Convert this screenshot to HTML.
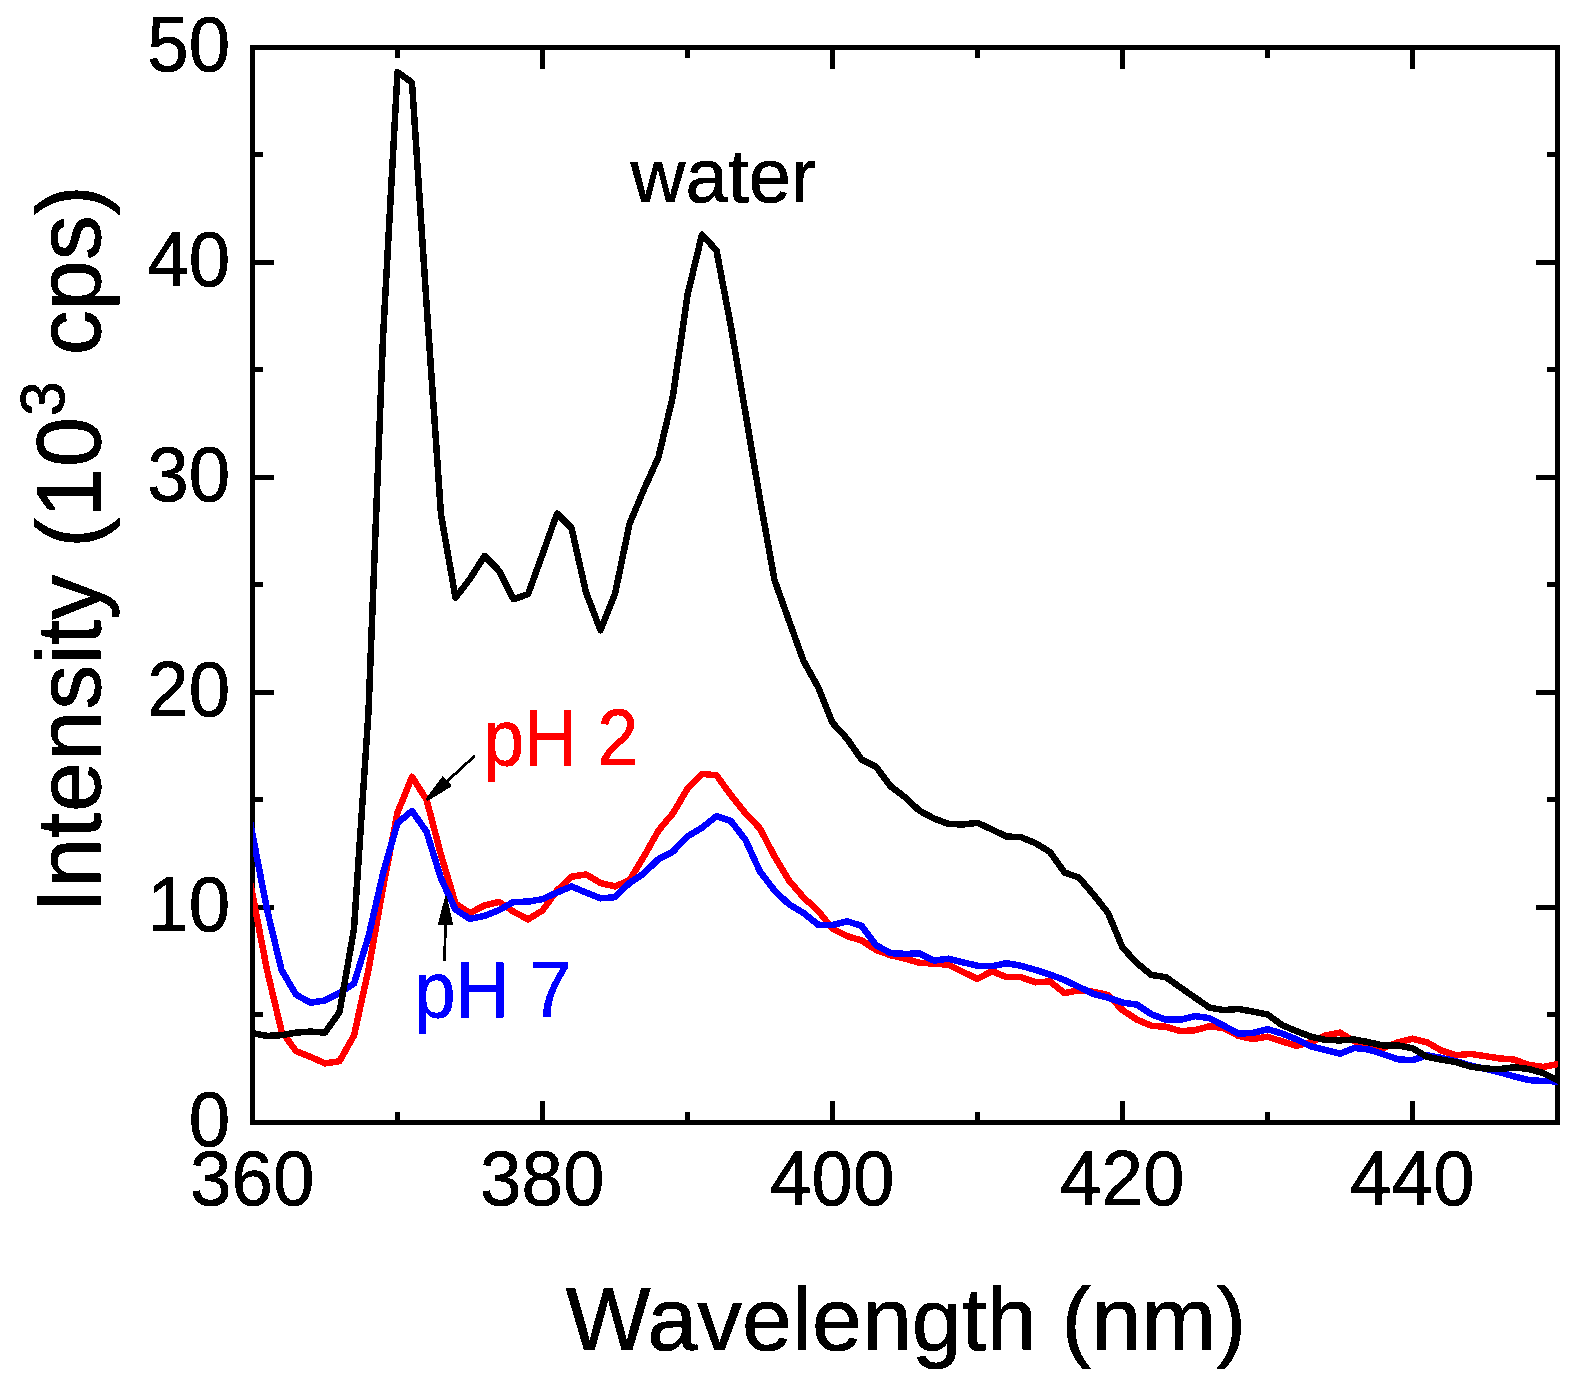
<!DOCTYPE html>
<html><head><meta charset="utf-8"><title>Fluorescence spectra</title>
<style>
html,body{margin:0;padding:0;background:#fff;overflow:hidden;}
svg{display:block;}
text{font-family:"Liberation Sans",Arial,Helvetica,sans-serif;}
</style></head><body>
<svg width="1574" height="1389" viewBox="0 0 1574 1389">
<defs><filter id="bin" filterUnits="userSpaceOnUse" x="0" y="0" width="1574" height="1389" color-interpolation-filters="sRGB"><feComponentTransfer><feFuncA type="discrete" tableValues="0 1"/></feComponentTransfer></filter></defs>
<rect width="1574" height="1389" fill="#fff"/>
<g fill="none" stroke="#000" stroke-width="5.0" stroke-linecap="butt">
<rect x="252.5" y="47.5" width="1305.0" height="1075.0"/>
<path d="M397.5 1122.5 v-10.5 M397.5 47.5 v10.5 M542.5 1122.5 v-21.5 M542.5 47.5 v21.5 M687.5 1122.5 v-10.5 M687.5 47.5 v10.5 M832.5 1122.5 v-21.5 M832.5 47.5 v21.5 M977.5 1122.5 v-10.5 M977.5 47.5 v10.5 M1122.5 1122.5 v-21.5 M1122.5 47.5 v21.5 M1267.5 1122.5 v-10.5 M1267.5 47.5 v10.5 M1412.5 1122.5 v-21.5 M1412.5 47.5 v21.5 M252.5 1014.5 h10.5 M1557.5 1014.5 h-10.5 M252.5 907.5 h21.5 M1557.5 907.5 h-21.5 M252.5 799.5 h10.5 M1557.5 799.5 h-10.5 M252.5 692.5 h21.5 M1557.5 692.5 h-21.5 M252.5 584.5 h10.5 M1557.5 584.5 h-10.5 M252.5 477.5 h21.5 M1557.5 477.5 h-21.5 M252.5 369.5 h10.5 M1557.5 369.5 h-10.5 M252.5 262.5 h21.5 M1557.5 262.5 h-21.5 M252.5 154.5 h10.5 M1557.5 154.5 h-10.5"/>
</g>
<g filter="url(#bin)"><g font-size="76" fill="#000" stroke="#000" stroke-width="0.7"><text transform="translate(252.2,1204.7) scale(0.98,1.03)" text-anchor="middle">360</text><text transform="translate(542.2,1204.7) scale(0.98,1.03)" text-anchor="middle">380</text><text transform="translate(832.2,1204.7) scale(0.98,1.03)" text-anchor="middle">400</text><text transform="translate(1122.2,1204.7) scale(0.98,1.03)" text-anchor="middle">420</text><text transform="translate(1412.2,1204.7) scale(0.98,1.03)" text-anchor="middle">440</text><text transform="translate(230.2,1145.9) scale(0.98,1.03)" text-anchor="end">0</text><text transform="translate(230.2,930.9) scale(0.98,1.03)" text-anchor="end">10</text><text transform="translate(230.2,715.9) scale(0.98,1.03)" text-anchor="end">20</text><text transform="translate(230.2,500.9) scale(0.98,1.03)" text-anchor="end">30</text><text transform="translate(230.2,285.9) scale(0.98,1.03)" text-anchor="end">40</text><text transform="translate(230.2,70.9) scale(0.98,1.03)" text-anchor="end">50</text></g>
<text x="906" y="1350" font-size="89.8" text-anchor="middle" fill="#000" stroke="#000" stroke-width="0.8">Wavelength (nm)</text>
<text transform="translate(100.3,913) rotate(-90)" font-size="90" fill="#000" stroke="#000" stroke-width="0.8" dx="0 0 0 1 1 1 0 0 0 2 0 0 0.7">Intensity (10<tspan font-size="62.5" dy="-36.5" dx="1">3</tspan><tspan dy="36.5" dx="0.8"> cps)</tspan></text></g>
<clipPath id="pc"><rect x="253.1" y="47.5" width="1304.9" height="1075.0"/></clipPath>
<g clip-path="url(#pc)" shape-rendering="crispEdges" fill="none" stroke-width="6.5" stroke-linejoin="round" stroke-linecap="butt">
<polyline stroke="#f00" points="238.0,819.4 252.5,894.6 267.0,969.9 281.5,1031.1 296.0,1051.1 310.5,1056.9 325.0,1063.4 339.5,1061.2 354.0,1035.4 368.5,969.9 383.0,887.7 397.5,812.7 412.0,776.8 426.5,799.6 441.0,854.8 455.5,903.6 470.0,913.1 484.5,905.4 499.0,901.9 513.5,911.6 528.0,919.3 542.5,910.5 557.0,890.5 571.5,876.8 586.0,874.4 600.5,883.0 615.0,886.4 629.5,880.2 644.0,856.3 658.5,830.5 673.0,813.3 687.5,788.6 702.0,773.8 716.5,775.3 731.0,795.3 745.5,813.3 760.0,828.6 774.5,856.3 789.0,880.6 803.5,897.4 818.0,910.7 832.5,928.6 847.0,936.1 861.5,940.4 876.0,949.9 890.5,955.2 905.0,958.7 919.5,962.8 934.0,963.6 948.5,964.7 963.0,972.0 977.5,978.9 992.0,971.1 1006.5,977.2 1021.0,977.2 1035.5,982.3 1050.0,981.5 1064.5,993.1 1079.0,990.3 1093.5,991.8 1108.0,995.0 1122.5,1010.1 1137.0,1019.7 1151.5,1025.8 1166.0,1026.8 1180.5,1031.1 1195.0,1030.3 1209.5,1026.2 1224.0,1028.3 1238.5,1035.9 1253.0,1039.1 1267.5,1036.7 1282.0,1041.4 1296.5,1045.7 1311.0,1042.1 1325.5,1035.4 1340.0,1032.6 1354.5,1041.4 1369.0,1044.7 1383.5,1047.9 1398.0,1042.3 1412.5,1038.7 1427.0,1042.3 1441.5,1050.5 1456.0,1055.2 1470.5,1053.9 1485.0,1056.1 1499.5,1058.4 1514.0,1059.5 1528.5,1064.9 1543.0,1067.0 1557.5,1064.0 1572.0,1061.0"/>
<polyline stroke="#f00" stroke-width="4.0" stroke-linejoin="bevel" transform="translate(0.3,0.3)" points="238.0,819.4 252.5,894.6 267.0,969.9 281.5,1031.1 296.0,1051.1 310.5,1056.9 325.0,1063.4 339.5,1061.2 354.0,1035.4 368.5,969.9 383.0,887.7 397.5,812.7 412.0,776.8 426.5,799.6 441.0,854.8 455.5,903.6 470.0,913.1 484.5,905.4 499.0,901.9 513.5,911.6 528.0,919.3 542.5,910.5 557.0,890.5 571.5,876.8 586.0,874.4 600.5,883.0 615.0,886.4 629.5,880.2 644.0,856.3 658.5,830.5 673.0,813.3 687.5,788.6 702.0,773.8 716.5,775.3 731.0,795.3 745.5,813.3 760.0,828.6 774.5,856.3 789.0,880.6 803.5,897.4 818.0,910.7 832.5,928.6 847.0,936.1 861.5,940.4 876.0,949.9 890.5,955.2 905.0,958.7 919.5,962.8 934.0,963.6 948.5,964.7 963.0,972.0 977.5,978.9 992.0,971.1 1006.5,977.2 1021.0,977.2 1035.5,982.3 1050.0,981.5 1064.5,993.1 1079.0,990.3 1093.5,991.8 1108.0,995.0 1122.5,1010.1 1137.0,1019.7 1151.5,1025.8 1166.0,1026.8 1180.5,1031.1 1195.0,1030.3 1209.5,1026.2 1224.0,1028.3 1238.5,1035.9 1253.0,1039.1 1267.5,1036.7 1282.0,1041.4 1296.5,1045.7 1311.0,1042.1 1325.5,1035.4 1340.0,1032.6 1354.5,1041.4 1369.0,1044.7 1383.5,1047.9 1398.0,1042.3 1412.5,1038.7 1427.0,1042.3 1441.5,1050.5 1456.0,1055.2 1470.5,1053.9 1485.0,1056.1 1499.5,1058.4 1514.0,1059.5 1528.5,1064.9 1543.0,1067.0 1557.5,1064.0 1572.0,1061.0"/>
<polyline stroke="#00f" points="238.0,759.2 252.5,834.4 267.0,909.6 281.5,969.9 296.0,994.6 310.5,1002.7 325.0,1000.4 339.5,993.1 354.0,983.6 368.5,936.5 383.0,873.5 397.5,823.0 412.0,811.0 426.5,831.6 441.0,878.5 455.5,909.6 470.0,918.9 484.5,915.9 499.0,910.1 513.5,901.9 528.0,901.7 542.5,899.1 557.0,892.5 571.5,886.4 586.0,892.5 600.5,898.3 615.0,897.2 629.5,883.0 644.0,873.3 658.5,859.1 673.0,851.6 687.5,836.3 702.0,827.7 716.5,816.1 731.0,821.1 745.5,840.0 760.0,871.6 774.5,890.5 789.0,904.3 803.5,912.9 818.0,924.7 832.5,925.1 847.0,921.3 861.5,925.8 876.0,945.1 890.5,953.1 905.0,953.9 919.5,953.5 934.0,960.6 948.5,958.7 963.0,962.3 977.5,965.8 992.0,966.2 1006.5,963.2 1021.0,965.8 1035.5,969.9 1050.0,974.6 1064.5,980.0 1079.0,987.0 1093.5,993.9 1108.0,997.6 1122.5,1002.5 1137.0,1004.7 1151.5,1014.4 1166.0,1019.7 1180.5,1019.7 1195.0,1016.1 1209.5,1018.2 1224.0,1025.8 1238.5,1033.7 1253.0,1032.8 1267.5,1029.2 1282.0,1033.5 1296.5,1039.3 1311.0,1046.4 1325.5,1050.0 1340.0,1053.7 1354.5,1047.9 1369.0,1049.6 1383.5,1054.3 1398.0,1059.3 1412.5,1060.2 1427.0,1055.2 1441.5,1058.0 1456.0,1061.2 1470.5,1065.5 1485.0,1068.8 1499.5,1072.2 1514.0,1076.3 1528.5,1080.1 1543.0,1081.0 1557.5,1081.4 1572.0,1081.9"/>
<polyline stroke="#00f" stroke-width="4.0" stroke-linejoin="bevel" transform="translate(0.3,0.3)" points="238.0,759.2 252.5,834.4 267.0,909.6 281.5,969.9 296.0,994.6 310.5,1002.7 325.0,1000.4 339.5,993.1 354.0,983.6 368.5,936.5 383.0,873.5 397.5,823.0 412.0,811.0 426.5,831.6 441.0,878.5 455.5,909.6 470.0,918.9 484.5,915.9 499.0,910.1 513.5,901.9 528.0,901.7 542.5,899.1 557.0,892.5 571.5,886.4 586.0,892.5 600.5,898.3 615.0,897.2 629.5,883.0 644.0,873.3 658.5,859.1 673.0,851.6 687.5,836.3 702.0,827.7 716.5,816.1 731.0,821.1 745.5,840.0 760.0,871.6 774.5,890.5 789.0,904.3 803.5,912.9 818.0,924.7 832.5,925.1 847.0,921.3 861.5,925.8 876.0,945.1 890.5,953.1 905.0,953.9 919.5,953.5 934.0,960.6 948.5,958.7 963.0,962.3 977.5,965.8 992.0,966.2 1006.5,963.2 1021.0,965.8 1035.5,969.9 1050.0,974.6 1064.5,980.0 1079.0,987.0 1093.5,993.9 1108.0,997.6 1122.5,1002.5 1137.0,1004.7 1151.5,1014.4 1166.0,1019.7 1180.5,1019.7 1195.0,1016.1 1209.5,1018.2 1224.0,1025.8 1238.5,1033.7 1253.0,1032.8 1267.5,1029.2 1282.0,1033.5 1296.5,1039.3 1311.0,1046.4 1325.5,1050.0 1340.0,1053.7 1354.5,1047.9 1369.0,1049.6 1383.5,1054.3 1398.0,1059.3 1412.5,1060.2 1427.0,1055.2 1441.5,1058.0 1456.0,1061.2 1470.5,1065.5 1485.0,1068.8 1499.5,1072.2 1514.0,1076.3 1528.5,1080.1 1543.0,1081.0 1557.5,1081.4 1572.0,1081.9"/>
<polyline stroke="#000" points="238.0,1030.3 252.5,1033.1 267.0,1035.9 281.5,1035.2 296.0,1032.6 310.5,1031.6 325.0,1032.6 339.5,1012.2 354.0,929.0 368.5,711.8 383.0,337.8 397.5,72.2 412.0,82.5 426.5,303.4 441.0,514.5 455.5,597.7 470.0,578.8 484.5,556.0 499.0,570.6 513.5,599.2 528.0,594.2 542.5,554.3 557.0,513.6 571.5,528.0 586.0,592.3 600.5,630.2 615.0,594.0 629.5,523.9 644.0,489.3 658.5,457.1 673.0,395.8 687.5,295.0 702.0,234.6 716.5,250.5 731.0,326.8 745.5,413.2 760.0,499.4 774.5,580.1 789.0,620.7 803.5,660.9 818.0,686.9 832.5,722.8 847.0,738.7 861.5,759.4 876.0,766.7 890.5,786.2 905.0,797.2 919.5,810.8 934.0,818.5 948.5,823.9 963.0,824.5 977.5,822.8 992.0,829.5 1006.5,836.5 1021.0,837.2 1035.5,843.2 1050.0,852.0 1064.5,872.5 1079.0,877.6 1093.5,894.6 1108.0,912.9 1122.5,947.5 1137.0,963.2 1151.5,975.0 1166.0,977.2 1180.5,987.5 1195.0,997.6 1209.5,1007.7 1224.0,1010.1 1238.5,1009.0 1253.0,1011.6 1267.5,1014.4 1282.0,1025.1 1296.5,1031.1 1311.0,1036.7 1325.5,1039.9 1340.0,1040.4 1354.5,1039.5 1369.0,1042.3 1383.5,1045.5 1398.0,1045.5 1412.5,1048.3 1427.0,1056.9 1441.5,1059.7 1456.0,1062.1 1470.5,1066.6 1485.0,1068.5 1499.5,1069.2 1514.0,1067.2 1528.5,1069.0 1543.0,1073.0 1557.5,1080.1 1572.0,1087.2"/>
<polyline stroke="#000" stroke-width="4.0" stroke-linejoin="bevel" transform="translate(0.3,0.3)" points="238.0,1030.3 252.5,1033.1 267.0,1035.9 281.5,1035.2 296.0,1032.6 310.5,1031.6 325.0,1032.6 339.5,1012.2 354.0,929.0 368.5,711.8 383.0,337.8 397.5,72.2 412.0,82.5 426.5,303.4 441.0,514.5 455.5,597.7 470.0,578.8 484.5,556.0 499.0,570.6 513.5,599.2 528.0,594.2 542.5,554.3 557.0,513.6 571.5,528.0 586.0,592.3 600.5,630.2 615.0,594.0 629.5,523.9 644.0,489.3 658.5,457.1 673.0,395.8 687.5,295.0 702.0,234.6 716.5,250.5 731.0,326.8 745.5,413.2 760.0,499.4 774.5,580.1 789.0,620.7 803.5,660.9 818.0,686.9 832.5,722.8 847.0,738.7 861.5,759.4 876.0,766.7 890.5,786.2 905.0,797.2 919.5,810.8 934.0,818.5 948.5,823.9 963.0,824.5 977.5,822.8 992.0,829.5 1006.5,836.5 1021.0,837.2 1035.5,843.2 1050.0,852.0 1064.5,872.5 1079.0,877.6 1093.5,894.6 1108.0,912.9 1122.5,947.5 1137.0,963.2 1151.5,975.0 1166.0,977.2 1180.5,987.5 1195.0,997.6 1209.5,1007.7 1224.0,1010.1 1238.5,1009.0 1253.0,1011.6 1267.5,1014.4 1282.0,1025.1 1296.5,1031.1 1311.0,1036.7 1325.5,1039.9 1340.0,1040.4 1354.5,1039.5 1369.0,1042.3 1383.5,1045.5 1398.0,1045.5 1412.5,1048.3 1427.0,1056.9 1441.5,1059.7 1456.0,1062.1 1470.5,1066.6 1485.0,1068.5 1499.5,1069.2 1514.0,1067.2 1528.5,1069.0 1543.0,1073.0 1557.5,1080.1 1572.0,1087.2"/>
</g>
<g font-size="76" filter="url(#bin)">
<text x="630.5" y="202" fill="#000" stroke="#000" stroke-width="0.7">water</text>
<text transform="translate(483.2,765) scale(0.966,1.04)" fill="#f00" stroke="#f00" stroke-width="0.7">pH 2</text>
<text transform="translate(414.2,1016.8) scale(0.98,1.04)" fill="#00f" stroke="#00f" stroke-width="0.7">pH 7</text>
</g>
<g stroke="#000" stroke-width="2.8" fill="#000" shape-rendering="crispEdges">
<line x1="474.8" y1="755.8" x2="446" y2="782.3"/>
<polygon points="425.7,798.8 442.8,776 452,786.1 427.7,801" stroke="none"/>
<line x1="444.5" y1="961" x2="445.6" y2="920"/>
<polygon points="445.2,895.9 446.8,895.9 453.1,924.7 437.9,924.7" stroke="none"/>
</g>
</svg>
</body></html>
